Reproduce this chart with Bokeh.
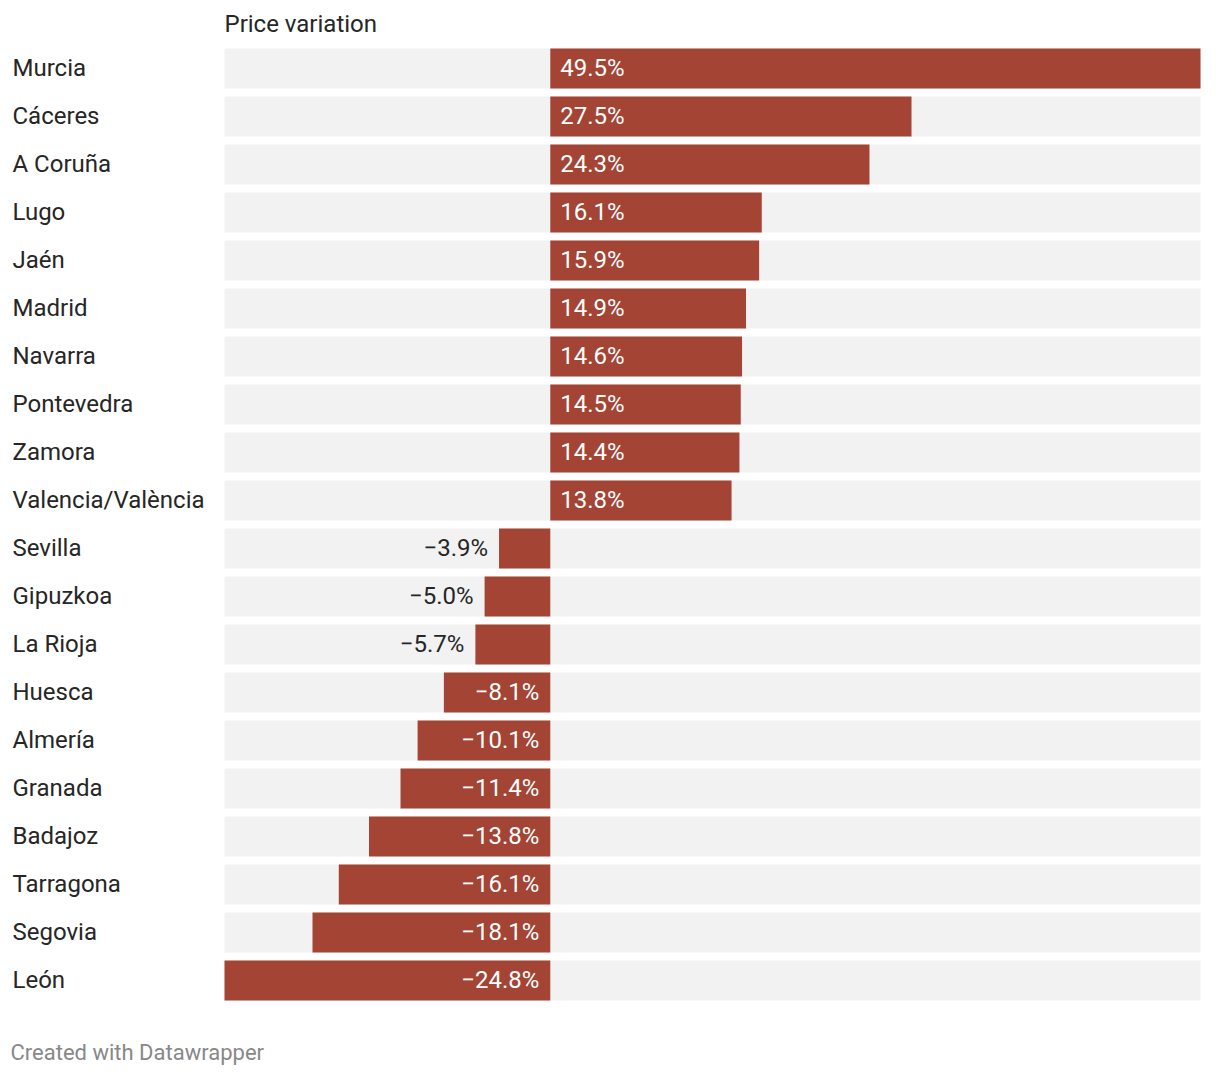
from bokeh.plotting import figure
from bokeh.models import Range1d
from bokeh.core.properties import value
from bokeh.embed import file_html
from bokeh.resources import INLINE

provinces = ["Murcia", "Cáceres", "A Coruña", "Lugo", "Jaén", "Madrid", "Navarra",
             "Pontevedra", "Zamora", "Valencia/València", "Sevilla", "Gipuzkoa",
             "La Rioja", "Huesca", "Almería", "Granada", "Badajoz", "Tarragona",
             "Segovia", "León"]
variation = [49.5, 27.5, 24.3, 16.1, 15.9, 14.9, 14.6, 14.5, 14.4, 13.8,
             -3.9, -5.0, -5.7, -8.1, -10.1, -11.4, -13.8, -16.1, -18.1, -24.8]
title_text = "Price variation"
footer_text = "Created with Datawrapper"

BAR = "#a34434"
BG = "#f2f2f2"
TXT = "#262626"
FONT = value("Roboto")
FS = "24px"

W, H = 1212, 1068
left_px, right_px = 224, W - 1200
vmin, vmax = min(variation), max(variation)
scale = (W - left_px - right_px) / (vmax - vmin)
xstart = vmin - left_px / scale
xend = vmax + right_px / scale

row_px = 48
top_px = 68
y_top = -top_px / row_px
y_bot = (H - top_px) / row_px

p = figure(width=W, height=H, output_backend="svg", toolbar_location=None,
           x_range=Range1d(xstart, xend), y_range=Range1d(y_bot, y_top),
           min_border=0, min_border_left=0, min_border_right=0,
           min_border_top=0, min_border_bottom=0)
p.axis.visible = False
p.grid.visible = False
p.outline_line_color = None
p.background_fill_color = "white"
p.border_fill_color = "white"

n = len(provinces)
ys = list(range(n))
fmt = lambda v: (f"{v:.1f}%" if v >= 0 else f"\u2212{abs(v):.1f}%")
labels = [fmt(v) for v in variation]

bh = 40 / row_px
p.hbar(y=ys, left=vmin, right=vmax, height=bh, fill_color=BG, line_color=None)
p.hbar(y=ys, left=0, right=variation, height=bh, fill_color=BAR, line_color=None)

# category labels
p.text(x=[xstart + 12 / scale] * n, y=ys, text=provinces, text_font=FONT,
       text_font_size=FS, text_color=TXT, text_align="left",
       text_baseline="middle", y_offset=-1)

# value labels
pos_idx = [i for i, v in enumerate(variation) if v >= 0]
neg_in = [i for i, v in enumerate(variation) if v < 0 and abs(v) * scale > 95]
neg_out = [i for i, v in enumerate(variation) if v < 0 and abs(v) * scale <= 95]

p.text(x=[0] * len(pos_idx), y=[ys[i] for i in pos_idx], text=[labels[i] for i in pos_idx],
       x_offset=10, y_offset=-1, text_font=FONT, text_font_size=FS, text_color="white",
       text_align="left", text_baseline="middle")
p.text(x=[0] * len(neg_in), y=[ys[i] for i in neg_in], text=[labels[i] for i in neg_in],
       x_offset=-11, y_offset=-1, text_font=FONT, text_font_size=FS, text_color="white",
       text_align="right", text_baseline="middle")
p.text(x=[variation[i] for i in neg_out], y=[ys[i] for i in neg_out],
       text=[labels[i] for i in neg_out],
       x_offset=-11, y_offset=-1, text_font=FONT, text_font_size=FS, text_color=TXT,
       text_align="right", text_baseline="middle")

# title and footer
p.text(x=[vmin], y=[(24 - top_px) / row_px], text=[title_text], text_font=FONT,
       text_font_size=FS, text_color=TXT, text_align="left",
       text_baseline="middle", y_offset=-1)
p.text(x=[xstart + 10 / scale], y=[(1053 - top_px) / row_px], text=[footer_text],
       text_font=FONT, text_font_size="22px", text_color="#888888", text_align="left",
       text_baseline="middle", y_offset=-1)

open("out.html", "w").write(file_html(p, INLINE))
